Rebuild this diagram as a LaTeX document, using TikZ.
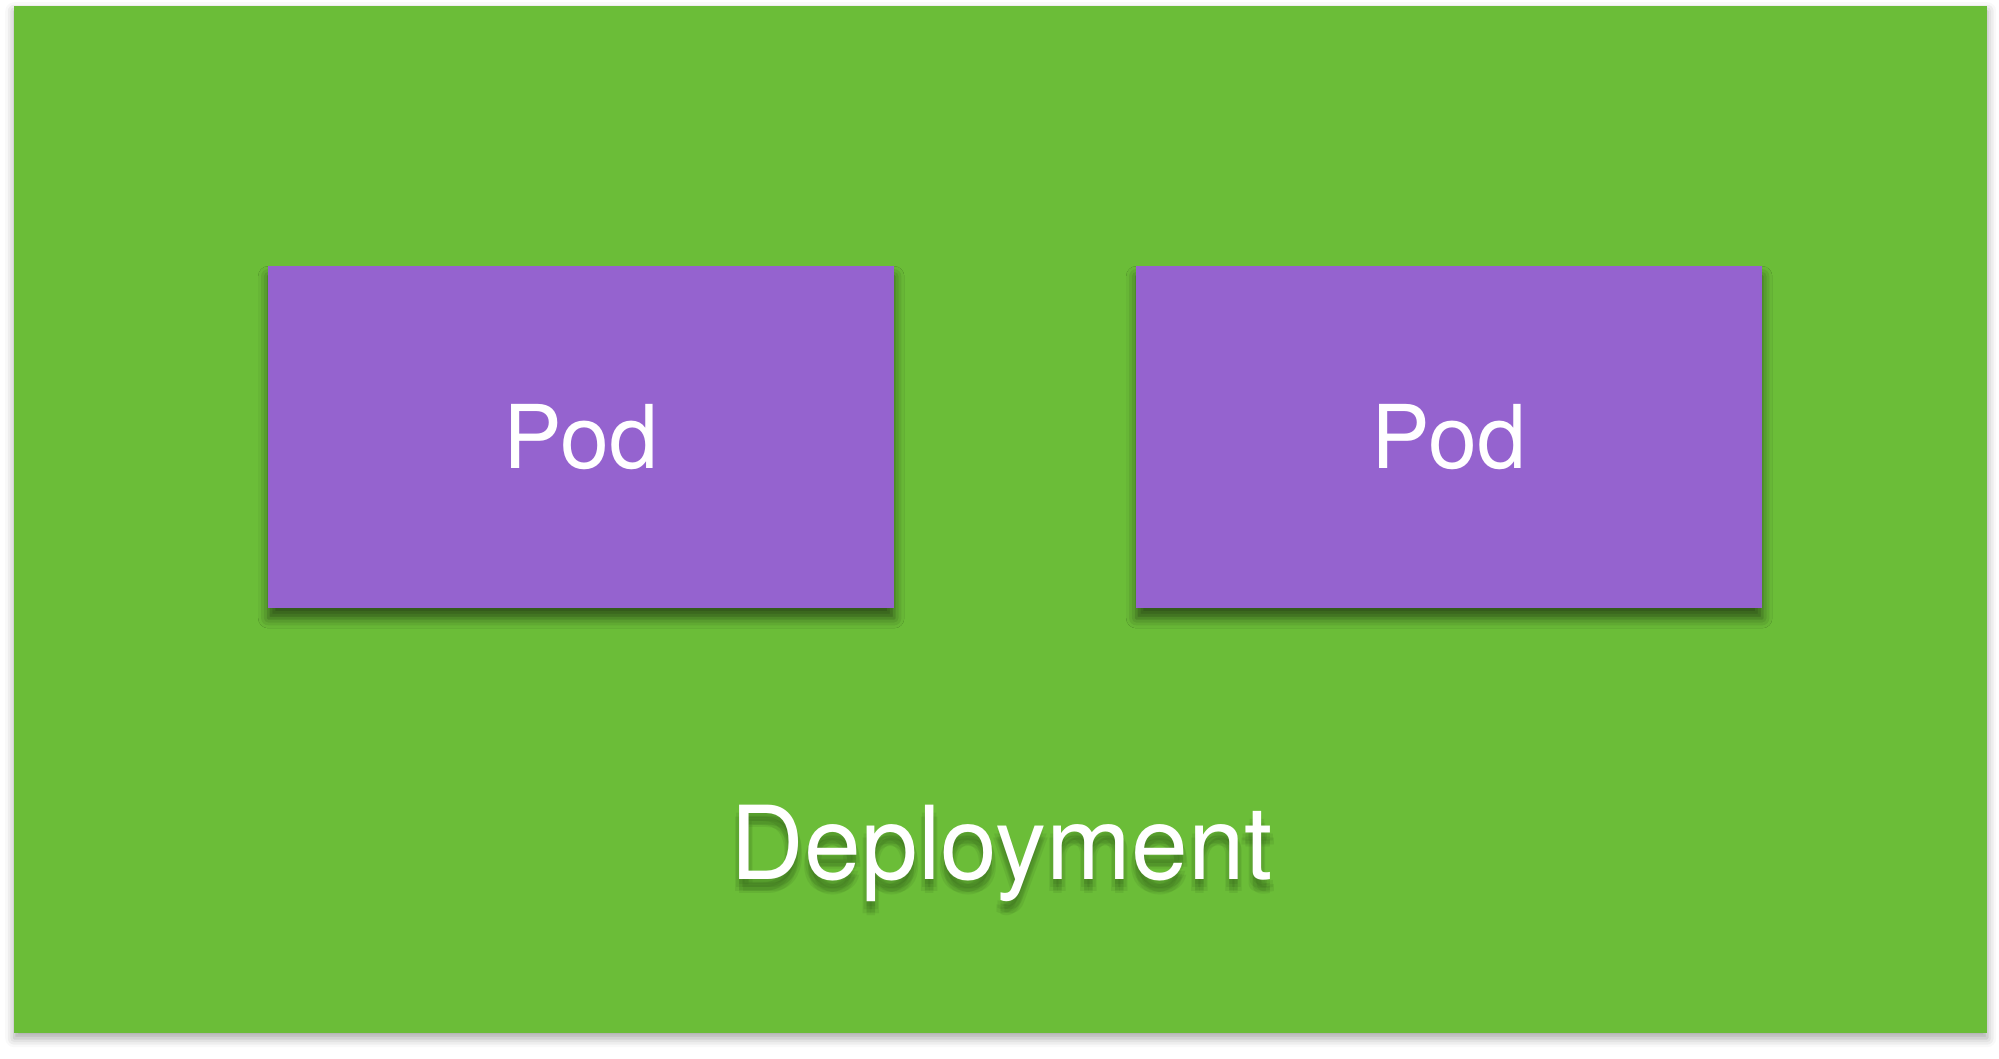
\documentclass[tikz,border=0pt]{standalone}
\usepackage{fontspec}
\setmainfont{TeX Gyre Heros}
\usetikzlibrary{shadows.blur}
\definecolor{deploygreen}{RGB}{107,189,56}
\definecolor{podpurple}{RGB}{149,99,207}
\definecolor{textshade}{RGB}{40,80,20}
\tikzset{
  x=1pt, y=-1pt,
  deploybox/.style={fill=deploygreen, draw=none, inner sep=0pt, anchor=north west,
    blur shadow={shadow xshift=0pt, shadow yshift=-5pt, shadow blur radius=9pt, shadow opacity=35}},
  podbox/.style={fill=podpurple, draw=none, inner sep=0pt, anchor=north west,
    minimum width=626pt, minimum height=342pt,
    blur shadow={shadow xshift=0pt, shadow yshift=-10pt, shadow blur radius=10pt, shadow opacity=55}},
  podlabel/.style={anchor=base, inner sep=0pt, text=white, font=\fontsize{88}{88}\selectfont},
  deploylabel/.style={anchor=base, inner sep=0pt, text=white, font=\fontsize{102}{102}\selectfont},
  glow/.style={anchor=base, inner sep=0pt, text=textshade, text opacity=0.1, font=\fontsize{102}{102}\selectfont},
}
\begin{document}
\begin{tikzpicture}
  \useasboundingbox (0,0) rectangle (1999,1058);
  % deployment frame
  \node[deploybox, minimum width=1973pt, minimum height=1027pt] (deploy) at (14,6) {};
  % the two pods
  \node[podbox] (pod1) at (268,266) {};
  \node[podbox] (pod2) at (1136,266) {};
  \node[podlabel] (pod1label) at (581,468) {Pod};
  \node[podlabel] (pod2label) at (1449,468) {Pod};
  % soft shadow under the deployment caption
  \foreach \dx/\dy [count=\i] in {0/5, -3/8, 3/8, 0/11, -4/12, 4/12, 0/14}
    \node[glow] (glow\i) at (1002+\dx,879+\dy) {Deployment};
  \node[deploylabel] (deploylabel) at (1002,879) {Deployment};
\end{tikzpicture}
\end{document}
